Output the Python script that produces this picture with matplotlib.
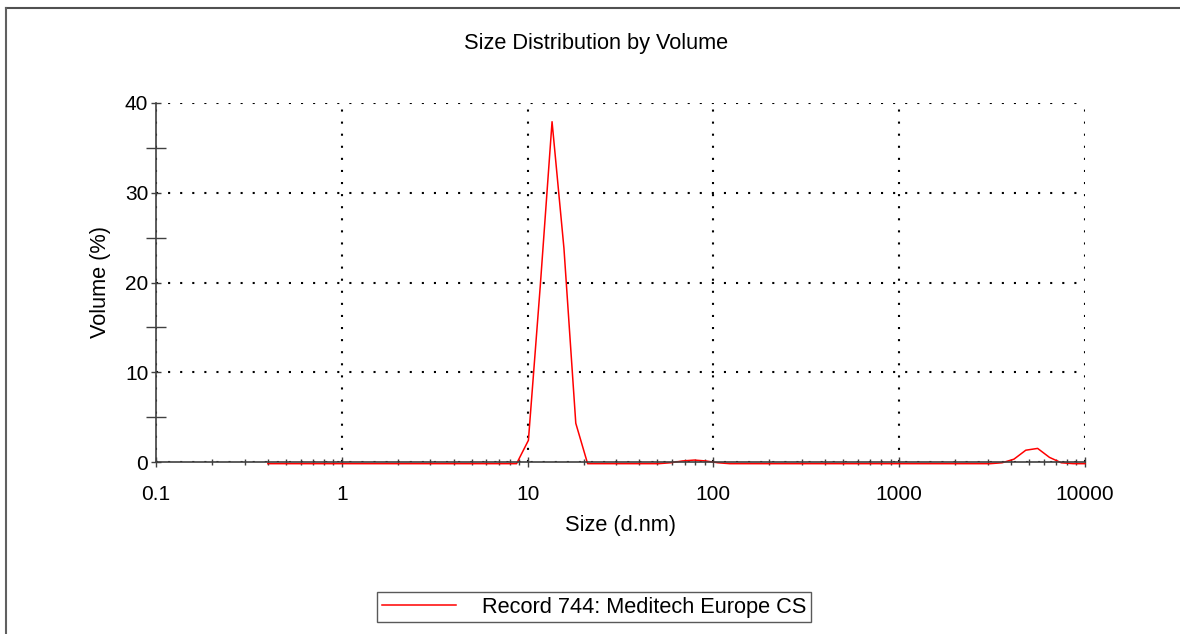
import matplotlib
matplotlib.use("Agg")
import matplotlib.pyplot as plt
from matplotlib.lines import Line2D
from matplotlib.transforms import ScaledTranslation
from matplotlib.ticker import FixedLocator, LogLocator, NullFormatter, MultipleLocator

plt.rcParams['font.family'] = ['Liberation Sans', 'DejaVu Sans']

# Size bins (d.nm) and volume distribution (%)
sizes = [0.4, 0.4632, 0.5365, 0.6213, 0.7195, 0.8332, 0.9649, 1.117, 1.294, 1.499,
         1.736, 2.01, 2.328, 2.696, 3.122, 3.615, 4.187, 4.849, 5.615, 6.503,
         7.531, 8.721, 10.1, 11.7, 13.54, 15.69, 18.17, 21.04, 24.36, 28.21,
         32.67, 37.84, 43.82, 50.75, 58.77, 68.06, 78.82, 91.28, 105.7, 122.4,
         141.8, 164.2, 190.1, 220.2, 255.0, 295.3, 342.0, 396.1, 458.7, 531.2,
         615.1, 712.4, 825.0, 955.4, 1106, 1281, 1484, 1718, 1990, 2305,
         2669, 3091, 3580, 4145, 4801, 5560, 6439, 7456, 8635, 10000]
volume = [0, 0, 0, 0, 0, 0, 0, 0, 0, 0,
          0, 0, 0, 0, 0, 0, 0, 0, 0, 0,
          0, 0, 2.6, 19.8, 38.1, 24.0, 4.5, 0, 0, 0,
          0, 0, 0, 0, 0.1, 0.3, 0.4, 0.3, 0.1, 0,
          0, 0, 0, 0, 0, 0, 0, 0, 0, 0,
          0, 0, 0, 0, 0, 0, 0, 0, 0, 0,
          0, 0, 0.1, 0.5, 1.5, 1.7, 0.7, 0.1, 0, 0]
x_ticks = [0.1, 1, 10, 100, 1000, 10000]
x_labels = ['0.1', '1', '10', '100', '1000', '10000']
y_ticks = [0, 10, 20, 30, 40]

fig = plt.figure(figsize=(11.8, 6.34), dpi=100)
ax = fig.add_axes([156/1180, 1-462/634, 929/1180, 359/634])

shift = ax.transData + ScaledTranslation(0, -1.2/72, fig.dpi_scale_trans)
ax.plot(sizes, volume, color='red', lw=1.1, transform=shift, clip_on=False,
        label='Record 744: Meditech Europe CS', zorder=2)

ax.set_xscale('log')
ax.set_xlim(0.1, 10000)
ax.set_ylim(0, 40)
ax.xaxis.set_major_locator(FixedLocator(x_ticks))
ax.set_xticklabels(x_labels)
ax.xaxis.set_minor_locator(LogLocator(base=10, subs=range(2, 10)))
ax.xaxis.set_minor_formatter(NullFormatter())
ax.set_yticks(y_ticks)
ax.yaxis.set_minor_locator(MultipleLocator(5))

for s in ['top', 'right']:
    ax.spines[s].set_visible(False)
for s in ['left', 'bottom']:
    ax.spines[s].set_color('#404040')
    ax.spines[s].set_linewidth(1.2)
    ax.spines[s].set_zorder(3)

ax.tick_params(axis='both', which='major', direction='inout', length=7, width=1,
               color='#404040', labelsize=15)
ax.tick_params(axis='x', which='major', pad=13)
ax.tick_params(axis='y', which='major', pad=2)
ax.tick_params(axis='x', which='minor', direction='inout', length=5, width=1, color='#404040')
ax.tick_params(axis='y', which='minor', direction='inout', length=14, width=1, color='#404040')

ax.grid(True, which='major', color='black', linestyle=(0, (1, 4.8)), linewidth=1.5)

ax.set_xlabel('Size (d.nm)', fontsize=15.7, labelpad=8)
ax.set_ylabel('Volume (%)', fontsize=15.7, labelpad=10)

fig.text(596/1180, 1-44/634, 'Size Distribution by Volume', fontsize=15.7,
         ha='center', va='center')

leg = fig.legend(loc='center', bbox_to_anchor=(594/1180, 1-607/634),
                 bbox_transform=fig.transFigure, fontsize=15.7, frameon=True,
                 fancybox=False, edgecolor='#303030', handlelength=3.4,
                 handletextpad=1.2, borderpad=0.2)
leg.get_frame().set_linewidth(1)

# figure border (top and left)
fig.add_artist(Line2D([6/1180, 1], [1-8/634, 1-8/634], color='#505050', lw=1.5,
                      transform=fig.transFigure))
fig.add_artist(Line2D([6/1180, 6/1180], [0, 1-8/634], color='#606060', lw=1.5,
                      transform=fig.transFigure))

fig.savefig('out.png', dpi=100)
